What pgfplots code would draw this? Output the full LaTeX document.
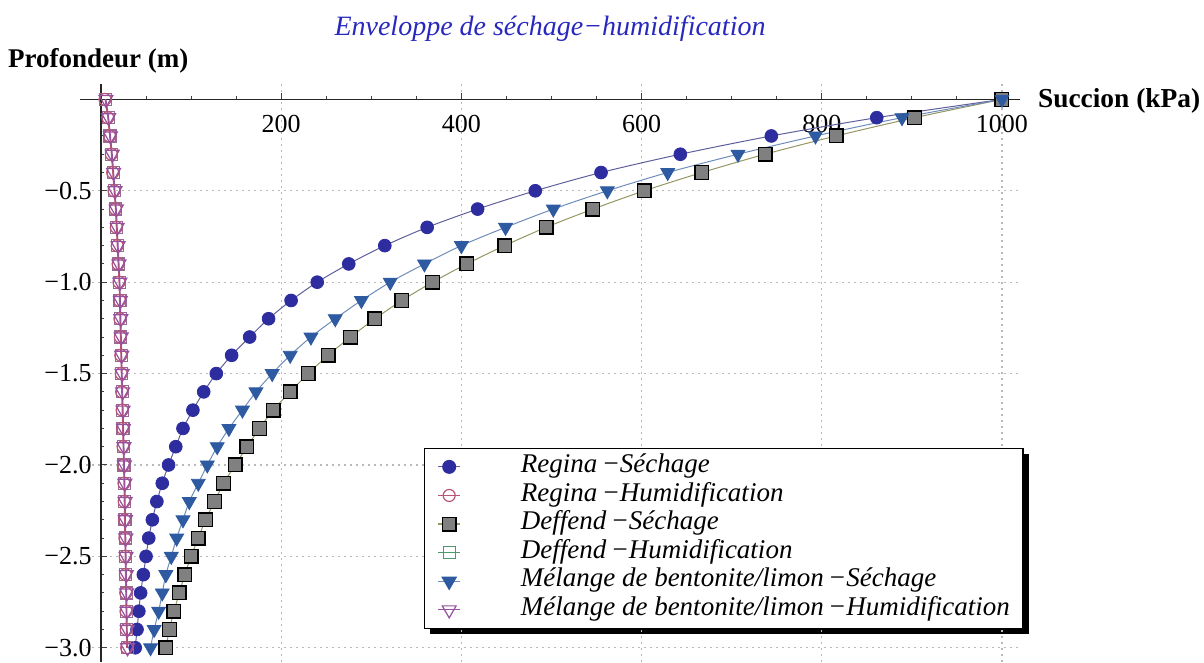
\documentclass[border=0pt]{standalone}
\usepackage{fontspec}
\setmainfont{Liberation Serif}
\usepackage{pgfplots}
\usepackage{pgfplotstable}
\pgfplotsset{compat=1.18}
\usetikzlibrary{backgrounds}

\definecolor{regS}{RGB}{45,45,160}
\definecolor{regSline}{RGB}{95,95,155}
\definecolor{regH}{RGB}{185,85,115}
\definecolor{defS}{RGB}{128,128,128}
\definecolor{defSline}{RGB}{150,150,100}
\definecolor{defH}{RGB}{80,150,110}
\definecolor{defHplot}{RGB}{150,105,150}
\definecolor{melS}{RGB}{45,90,160}
\definecolor{melSline}{RGB}{110,140,185}
\definecolor{melH}{RGB}{150,80,160}
\definecolor{titleblue}{RGB}{40,40,190}

\pgfplotsset{shortleg/.style={legend image code/.code={
    \draw[mark repeat=2, mark phase=2, line width=0.6pt]
        plot coordinates {(0pt,0pt) (5.5pt,0pt) (11pt,0pt)};}}}

% sechage: suction (kPa) vs depth (m)
\pgfplotstableread{
z     regina deffend melange
0.0   1000   1000    1000
-0.1  861    903     889
-0.2  744    816     793
-0.3  643    737     707
-0.4  555    667     629
-0.5  482    603     562
-0.6  418    546     502
-0.7  362    494     449
-0.8  315    448     400
-0.9  275    406     359
-1.0  240    368     321
-1.1  211    334     289
-1.2  186    304     260
-1.3  165    277     233
-1.4  145    252     210
-1.5  128    230     190
-1.6  114    210     172
-1.7  102    191     157
-1.8  91     176     142
-1.9  83     162     129
-2.0  75     149     118
-2.1  68     136     108
-2.2  62     126     98
-2.3  57     116     91
-2.4  53     108     84
-2.5  50     100     78
-2.6  47     93      72
-2.7  44     87      68
-2.8  42     81      64
-2.9  40     76      59
-3.0  38     72      55
}\sechage

% humidification
\pgfplotstableread{
z     regina deffend melange
0.0   4.5    5.0     5.5
-0.1  7.5    8.0     8.5
-0.2  9.5    10.0    10.5
-0.3  11.5   12.0    12.5
-0.4  13.0   13.5    14.0
-0.5  14.5   15.0    15.5
-0.6  16.0   16.5    17.0
-0.7  17.0   17.5    18.0
-0.8  18.0   18.5    19.0
-0.9  19.0   19.5    20.0
-1.0  20.0   20.5    21.0
-1.1  20.5   21.0    21.5
-1.2  21.0   21.5    22.0
-1.3  21.5   22.0    22.5
-1.4  22.0   22.5    23.0
-1.5  22.5   23.0    23.5
-1.6  23.0   23.5    24.0
-1.7  23.5   24.0    24.5
-1.8  24.0   24.5    25.0
-1.9  24.5   25.0    25.5
-2.0  25.0   25.5    26.0
-2.1  25.5   26.0    26.5
-2.2  25.8   26.3    26.8
-2.3  26.1   26.6    27.1
-2.4  26.5   27.0    27.5
-2.5  26.8   27.3    27.8
-2.6  27.1   27.6    28.1
-2.7  27.5   28.0    28.5
-2.8  27.8   28.3    28.8
-2.9  28.1   28.6    29.1
-3.0  28.5   29.0    29.5
}\humid

\begin{document}
\begin{tikzpicture}
\begin{axis}[
    scale only axis,
    width=470pt, height=289.25pt,
    xmin=-23.3, xmax=1020,
    ymin=-3.078, ymax=0.087,
    axis lines=middle,
    axis line style={-, black!85, line width=0.6pt},
    xtick={200,400,600,800,1000},
    xticklabels={200,400,600,800,1000},
    ytick={-3,-2.5,-2,-1.5,-1,-0.5},
    yticklabels={−3.0,−2.5,−2.0,−1.5,−1.0,−0.5},
    minor xtick={50,100,150,250,300,350,450,500,550,650,700,750,850,900,950},
    minor ytick={-2.9,-2.8,-2.7,-2.6,-2.4,-2.3,-2.2,-2.1,-1.9,-1.8,-1.7,-1.6,-1.4,-1.3,-1.2,-1.1,-0.9,-0.8,-0.7,-0.6,-0.4,-0.3,-0.2,-0.1},
    tick align=inside,
    major tick length=3pt, minor tick length=1.6pt,
    tick style={black!75, line width=0.5pt},
    grid=major,
    major grid style={gray!55, dash pattern=on 0.8pt off 2.2pt, line width=0.6pt},
    xticklabel style={font=\fontsize{13}{15}\selectfont, yshift=-4.4pt},
    yticklabel style={font=\fontsize{13}{15}\selectfont, xshift=-1.2pt},
    title={Enveloppe de séchage−humidification},
    title style={at={(axis description cs:0.5,1)}, anchor=base, yshift=18.25pt,
        font=\fontsize{14}{16}\selectfont\itshape, text=titleblue},
    xlabel={Succion (kPa)},
    ylabel={Profondeur (m)},
    every axis x label/.style={at={(axis description cs:1,0.9725)}, anchor=base west,
        xshift=5.5pt, yshift=-4.25pt, font=\fontsize{13.7}{16}\selectfont\bfseries},
    every axis y label/.style={at={(axis description cs:0,1)}, anchor=base west,
        xshift=-39.5pt, yshift=8.25pt, font=\fontsize{13.5}{16}\selectfont\bfseries},
    legend style={at={(axis cs:358.5,-1.907)}, anchor=north west, name=leg,
        draw=black, line width=0.6pt, fill=white,
        inner xsep=6.5pt, inner ysep=2pt,
        font=\fontsize{13.5}{14}\selectfont\itshape,
        column sep=30pt,
        nodes={inner sep=0pt, text height=10pt, text depth=4.3pt},
        cells={anchor=west}},
]
% drying curves
\addplot[forget plot, smooth, draw=regSline, line width=0.5pt, mark=*, mark size=3.2pt,
    mark options={fill=regS, draw=regS, line width=0.4pt}]
    table[x=regina, y=z] {\sechage};
\addplot[forget plot, smooth, draw=defSline, line width=0.5pt, mark=square*, mark size=3.4pt,
    mark options={fill=defS, draw=black, line width=0.7pt}]
    table[x=deffend, y=z] {\sechage};
\addplot[forget plot, smooth, draw=melSline, line width=0.5pt, mark=triangle*, mark size=4pt,
    mark options={rotate=180, fill=melS, draw=melS, line width=0.4pt}]
    table[x=melange, y=z] {\sechage};
% wetting curves
\addplot[forget plot, smooth, draw=defHplot, line width=0.5pt, mark=square, mark size=3pt,
    mark options={draw=defHplot, line width=0.6pt}]
    table[x=deffend, y=z] {\humid};
\addplot[forget plot, smooth, draw=regH, line width=0.5pt, mark=o, mark size=3pt,
    mark options={draw=regH, line width=0.6pt}]
    table[x=regina, y=z] {\humid};
\addplot[forget plot, smooth, draw=melH, line width=0.5pt, mark=triangle, mark size=4pt,
    mark options={rotate=180, draw=melH, line width=0.6pt}]
    table[x=melange, y=z] {\humid};
% legend
\addlegendimage{draw=regSline, mark=*, mark size=3.2pt, mark options={fill=regS, draw=regS}, shortleg}
\addlegendentry{Regina\,−Séchage}
\addlegendimage{draw=regH, mark=o, mark size=3pt, mark options={draw=regH}, shortleg}
\addlegendentry{Regina\,−Humidification}
\addlegendimage{draw=defSline, mark=square*, mark size=3.4pt, mark options={fill=defS, draw=black, line width=0.7pt}, shortleg}
\addlegendentry{Deffend\,−Séchage}
\addlegendimage{draw=defH, mark=square, mark size=3pt, mark options={draw=defH}, shortleg}
\addlegendentry{Deffend\,−Humidification}
\addlegendimage{draw=melSline, mark=triangle*, mark size=4pt, mark options={rotate=180, fill=melS, draw=melS}, shortleg}
\addlegendentry{Mélange de bentonite/limon\,−Séchage}
\addlegendimage{draw=melH, mark=triangle, mark size=4pt, mark options={rotate=180, draw=melH}, shortleg}
\addlegendentry{Mélange de bentonite/limon\,−Humidification}
\end{axis}
\begin{scope}[on background layer]
\fill[black] ([xshift=2.8pt,yshift=-2.8pt]leg.south west)
    rectangle ([xshift=2.8pt,yshift=-2.8pt]leg.north east);
\end{scope}
\pgfresetboundingbox
\path[use as bounding box] ([xshift=-40pt]current axis.south west)
    rectangle ([xshift=92pt,yshift=41.75pt]current axis.north east);
\end{tikzpicture}
\end{document}
